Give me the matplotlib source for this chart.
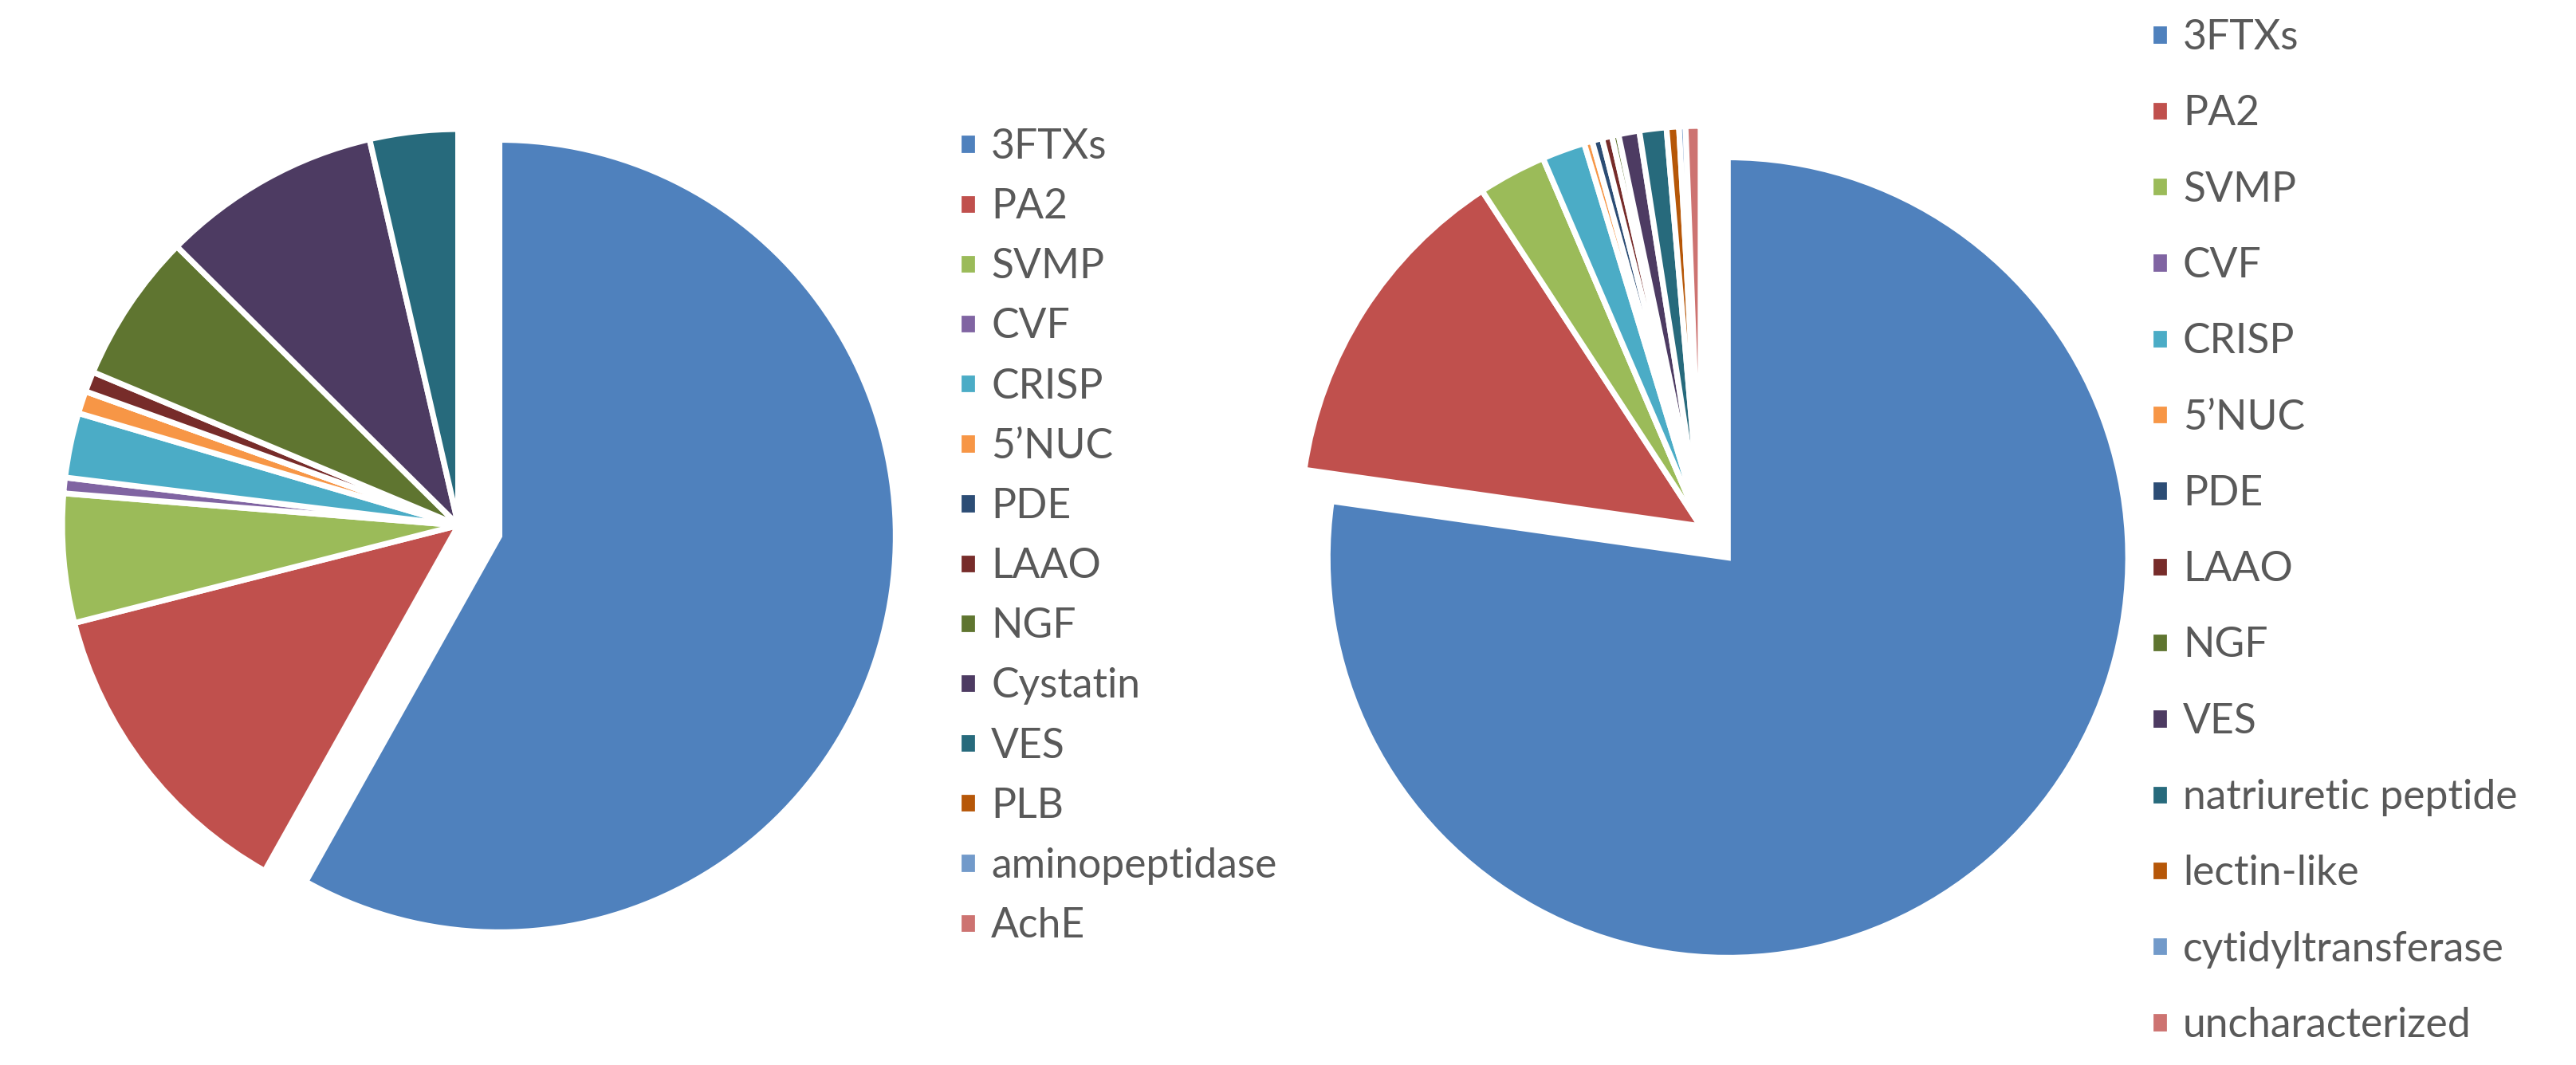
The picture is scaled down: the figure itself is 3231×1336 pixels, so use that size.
import matplotlib
matplotlib.use("Agg")
import matplotlib.pyplot as plt

# ---------------- data ----------------
left_labels = ["3FTXs", "PA2", "SVMP", "CVF", "CRISP", "5\u2019NUC", "PDE", "LAAO",
               "NGF", "Cystatin", "VES", "PLB", "aminopeptidase", "AchE"]
left_values = [58.1, 12.9, 5.25, 0.64, 2.64, 0.92, 0.0, 0.83,
               6.1, 8.97, 3.6, 0.0, 0.0, 0.0]

right_labels = ["3FTXs", "PA2", "SVMP", "CVF", "CRISP", "5\u2019NUC", "PDE", "LAAO",
                "NGF", "VES", "natriuretic peptide", "lectin-like",
                "cytidyltransferase", "uncharacterized"]
right_values = [77.25, 13.56, 2.75, 0.0, 1.74, 0.33, 0.41, 0.40,
                0.27, 0.84, 1.09, 0.50, 0.26, 0.60]

colors = ["#4F81BD", "#C0504D", "#9BBB59", "#8064A2", "#4BACC6", "#F79646",
          "#2C4D75", "#772C2A", "#5F7530", "#4D3B62", "#276A7C", "#B65708",
          "#729ACA", "#CD7371"]

# ---------------- figure ----------------
W, H, DPI = 3231, 1336, 200
plt.rcParams["font.family"] = ["Lato", "DejaVu Sans"]
fig = plt.figure(figsize=(W / DPI, H / DPI), dpi=DPI)
fig.patch.set_facecolor("white")

TEXT = "#595959"
FS = 18.6
EDGE_LW = 2.6


def pie_axes(cx, cy_img, R, lim=1.15):
    half = R * lim
    ax = fig.add_axes([(cx - half) / W, (H - cy_img - half) / H,
                       2 * half / W, 2 * half / H])
    return ax, lim


def draw_pie(ax, lim, values, explode_first):
    explode = [explode_first] + [0] * (len(values) - 1)
    wedges, _ = ax.pie(values, colors=colors[:len(values)], startangle=90,
                       counterclock=False, explode=explode, radius=1.0,
                       wedgeprops=dict(edgecolor="white", linewidth=EDGE_LW,
                                       joinstyle="miter"))
    ax.set_xlim(-lim, lim)
    ax.set_ylim(-lim, lim)
    ax.set_aspect("equal", adjustable="box")
    ax.axis("off")
    return wedges


axL, limL = pie_axes(575, 659, 497)
wL = draw_pie(axL, limL, left_values, 0.107)

axR, limR = pie_axes(2133, 660, 502)
wR = draw_pie(axR, limR, right_values, 0.104)

fs_px = FS * DPI / 72.0
hl = 24.0 / fs_px


def add_legend(handles, labels, x_img, y_img, spacing):
    leg = fig.legend(handles, labels, loc="upper left",
                     bbox_to_anchor=(x_img / W, 1 - y_img / H),
                     frameon=False, fontsize=FS, borderpad=0, borderaxespad=0,
                     handlelength=hl, handleheight=hl,
                     handletextpad=17.0 / fs_px,
                     labelspacing=spacing,
                     labelcolor=TEXT)
    return leg


legL = add_legend(wL, left_labels, 1202, 161, 0.545)
legR = add_legend(wR, right_labels, 2697, 24, 0.935)

fig.savefig("out.png", dpi=DPI, facecolor="white")
